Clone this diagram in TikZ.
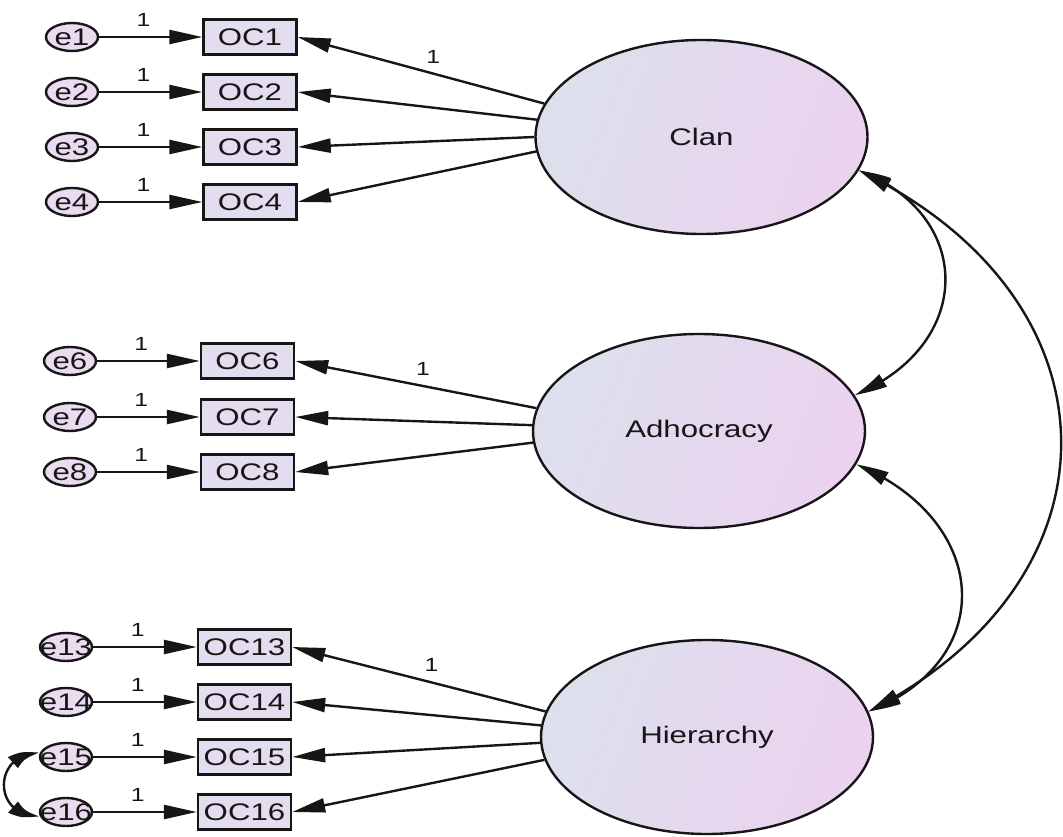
\documentclass[tikz,border=0pt]{standalone}
\usepackage{fontspec}
\setmainfont{Liberation Sans}[FakeStretch=1.3]
\usetikzlibrary{arrows.meta,bending,shapes.geometric}

\definecolor{ink}{HTML}{161616}
\definecolor{errfill}{HTML}{EBDBF1}
\definecolor{boxfill}{HTML}{E4DDEF}
\definecolor{latleft}{HTML}{DDE0EC}
\definecolor{latright}{HTML}{EBD2EF}

\tikzset{
  err/.style={ellipse, draw=ink, line width=2.4pt, fill=errfill,
    minimum width=52pt, minimum height=28pt, inner sep=0pt},
  obs/.style={rectangle, draw=ink, line width=2.4pt, fill=boxfill,
    minimum width=93pt, minimum height=35pt, inner sep=0pt,
    font=\fontsize{24}{26}\selectfont, text=ink},
  lat/.style={ellipse, draw=ink, line width=2.4pt,
    left color=latleft, right color=latright, shading angle=70,
    minimum width=332pt, minimum height=194pt, inner sep=0pt,
    font=\fontsize{24}{26}\selectfont, text=ink},
  errtxt/.style={font=\fontsize{24}{26}\selectfont, text=ink, inner sep=0pt},
  one/.style={font=\fontsize{19}{21}\selectfont, text=ink, inner sep=0pt, yshift=17pt},
  tip/.style={Triangle[length=33pt,width=14pt]},
  path/.style={draw=ink, line width=2.4pt, -{Triangle[length=33pt,width=14pt]}},
  cov/.style={draw=ink, line width=2.4pt,
    {Triangle[length=33pt,width=14pt,bend]}-{Triangle[length=33pt,width=14pt,bend]}},
}

\begin{document}
\begin{tikzpicture}[x=1pt,y=-1pt]
\useasboundingbox (0,0) rectangle (1063,837);

% latent factors
\node[lat] (Clan) at (701.5,137) {Clan};
\node[lat] (Adh)  at (699,431)   {Adhocracy};
\node[lat] (Hie)  at (707,737)   {Hierarchy};

% observed indicators
\node[obs] (OC1)  at (250,37)    {OC1};
\node[obs] (OC2)  at (250,92)    {OC2};
\node[obs] (OC3)  at (250,147)   {OC3};
\node[obs] (OC4)  at (250,202)   {OC4};
\node[obs] (OC6)  at (247.5,361) {OC6};
\node[obs] (OC7)  at (247.5,417) {OC7};
\node[obs] (OC8)  at (247.5,472) {OC8};
\node[obs] (OC13) at (244.5,647) {OC13};
\node[obs] (OC14) at (244.5,702) {OC14};
\node[obs] (OC15) at (244.5,757) {OC15};
\node[obs] (OC16) at (244.5,812) {OC16};

% error terms
\foreach \n/\x/\y in {1/72/37, 2/72/92, 3/72/147, 4/72/202,
                      6/70/361, 7/70/417, 8/70/472,
                      13/66/647, 14/66/702, 15/66/757, 16/66/812} {
  \node[err] (e\n) at (\x,\y) {};
  \node[errtxt] at (e\n) {e\n};
}

% error -> indicator paths, fixed at 1
\foreach \n in {1,2,3,4,6,7,8,13,14,15,16} {
  \draw[path] (e\n) -- node[one, pos=0.43] {1} (OC\n);
}

% factor loadings
\draw[path] (Clan.168.5) -- node[one, pos=0.45] {1} (OC1.east);
\draw[path] (Clan.174)   -- (OC2.east);
\draw[path] (Clan.180)   -- (OC3.east);
\draw[path] (Clan.185.5) -- (OC4.east);

\draw[path] (Adh.172.5) -- node[one, pos=0.47] {1} (OC6.east);
\draw[path] (Adh.178.5) -- (OC7.east);
\draw[path] (Adh.184)   -- (OC8.east);

\draw[path] (Hie.171)   -- node[one, pos=0.45] {1} (OC13.east);
\draw[path] (Hie.176.5) -- (OC14.east);
\draw[path] (Hie.182.5) -- (OC15.east);
\draw[path] (Hie.188)   -- (OC16.east);

% factor covariances
\draw[cov] (Clan.348) .. controls (975,215) and (975,345) .. (Adh.13);
\draw[cov] (Clan.348) .. controls (1127,300) and (1127,580) .. (Hie.9);
\draw[cov] (Adh.348)  .. controls (990,520) and (1000,660) .. (Hie.9);

% error covariance
\draw[cov] (e15.172) .. controls (-8,752) and (-8,818) .. (e16.188);
\end{tikzpicture}
\end{document}
